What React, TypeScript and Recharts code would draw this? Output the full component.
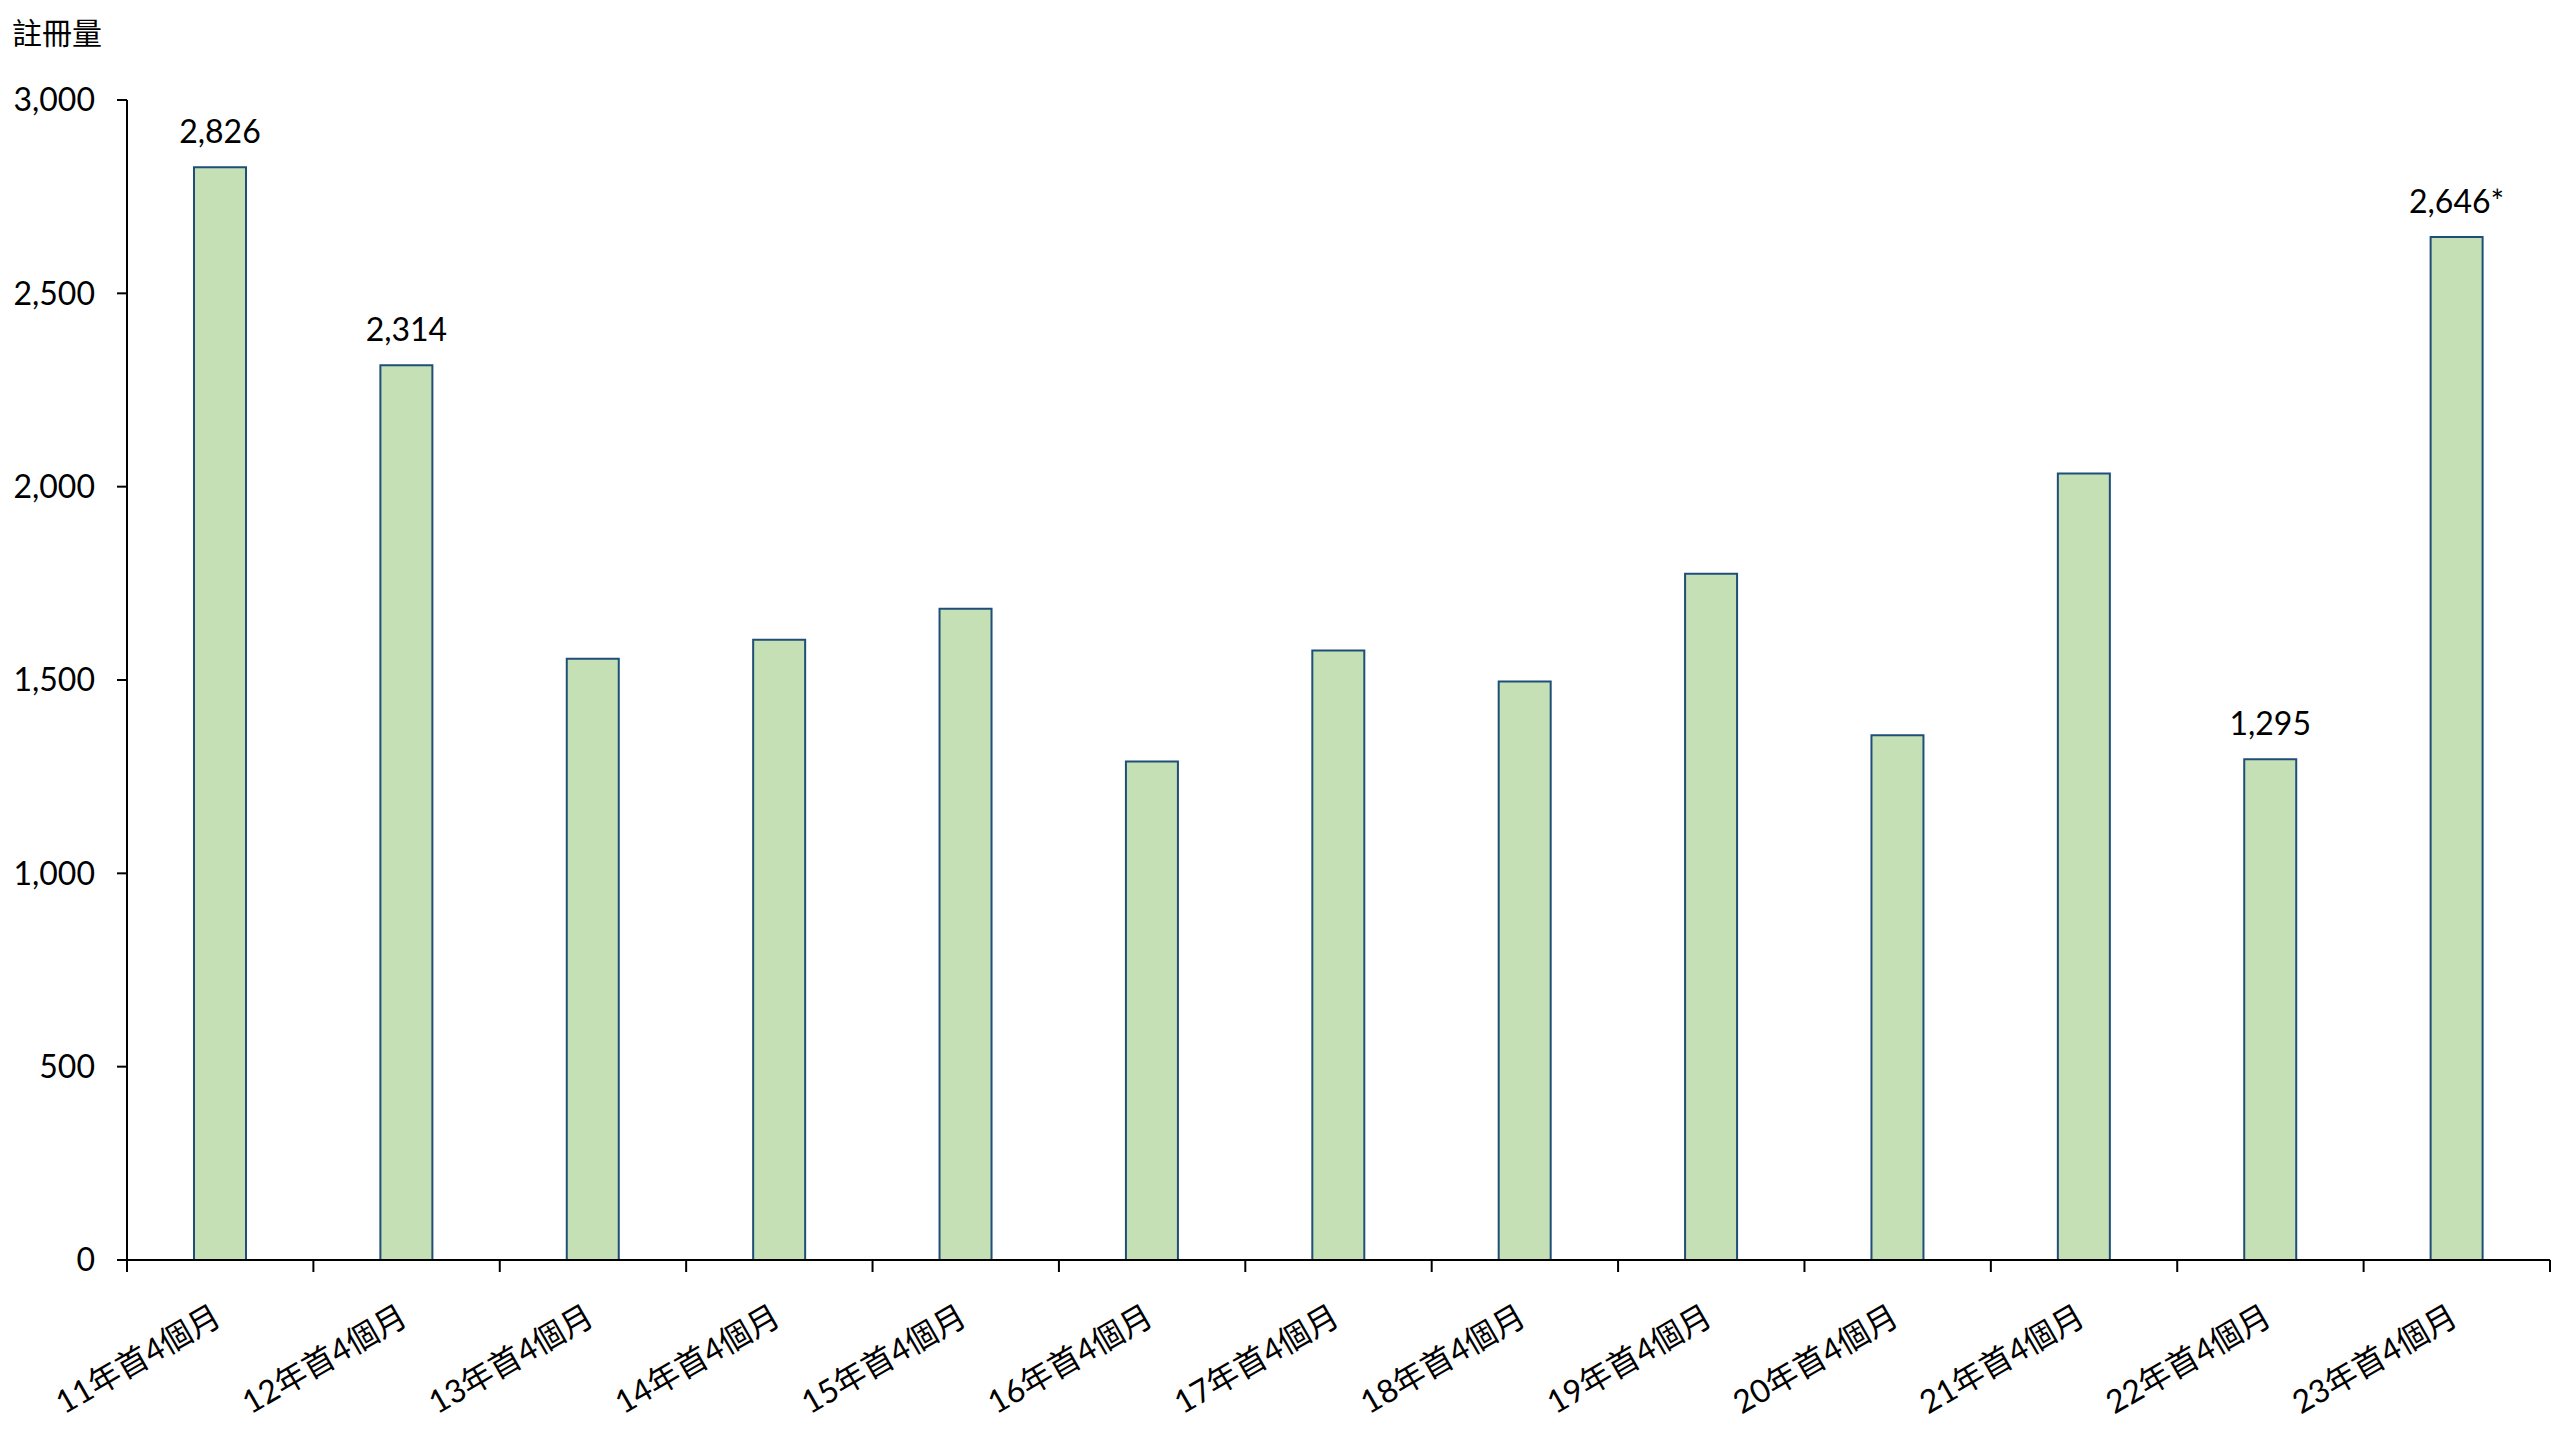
import React from 'react';
import { BarChart, Bar, XAxis, YAxis, LabelList } from 'recharts';

const categories = [
  '11年首4個月',
  '12年首4個月',
  '13年首4個月',
  '14年首4個月',
  '15年首4個月',
  '16年首4個月',
  '17年首4個月',
  '18年首4個月',
  '19年首4個月',
  '20年首4個月',
  '21年首4個月',
  '22年首4個月',
  '23年首4個月',
];

const registrations = [2826, 2314, 1555, 1604, 1684, 1289, 1576, 1496, 1775, 1357, 2034, 1295, 2646];

const valueLabels = ['2,826', '2,314', '', '', '', '', '', '', '', '', '', '1,295', '2,646*'];

const yTicks = [0, 500, 1000, 1500, 2000, 2500, 3000];

// each category sits in the middle of its slot on a 0..13 scale
const data = categories.map((name, i) => ({
  name,
  value: registrations[i],
  label: valueLabels[i],
  pos: i + 0.5,
}));

// boundary ticks (integers) carry a tick mark, centre ticks (halves) carry the label
const xTicks = [...categories.map((_, i) => i), categories.length, ...data.map((d) => d.pos)].sort(
  (a, b) => a - b,
);

const FONT = "Lato, 'Noto Sans CJK TC', sans-serif";

const CategoryTick = ({ x, y, payload }: any) => {
  const v = payload.value;
  if (Number.isInteger(v)) {
    return <line x1={x} y1={y} x2={x} y2={y + 12} stroke="#000" strokeWidth={2} />;
  }
  return (
    <g transform={`translate(${x + 3},${y + 63})`}>
      <text
        x={0}
        y={0}
        textAnchor="end"
        transform="rotate(-30)"
        fontSize={32}
        fontFamily={FONT}
        fill="#000"
      >
        {categories[Math.floor(v)]}
      </text>
    </g>
  );
};

const formatThousands = (v: number) => v.toLocaleString('en-US');

const App = () => {
  return (
    <div style={{ position: 'absolute', left: 0, top: 0, width: 2560, height: 1440, background: '#fff' }}>
      <div
        style={{
          position: 'absolute',
          left: 12,
          top: 15,
          fontSize: 30,
          lineHeight: '34px',
          fontFamily: FONT,
          color: '#000',
        }}
      >
        註冊量
      </div>
      <BarChart
        width={2560}
        height={1440}
        data={data}
        margin={{ top: 100, right: 10, left: 0, bottom: 10 }}
        barSize={52}
      >
        <XAxis
          dataKey="pos"
          type="number"
          domain={[0, categories.length]}
          ticks={xTicks}
          interval={0}
          height={170}
          tickSize={0}
          tickMargin={0}
          axisLine={{ stroke: '#000', strokeWidth: 2 }}
          tickLine={false}
          tick={<CategoryTick />}
          allowDataOverflow
        />
        <YAxis
          width={127}
          domain={[0, 3000]}
          ticks={yTicks}
          tickFormatter={formatThousands}
          tickSize={10}
          tickMargin={22}
          axisLine={{ stroke: '#000', strokeWidth: 2 }}
          tickLine={{ stroke: '#000', strokeWidth: 2 }}
          tick={{ fill: '#000', fontSize: 32, fontFamily: FONT }}
        />
        <Bar dataKey="value" fill="#C5E0B4" stroke="#1F4E79" strokeWidth={2} isAnimationActive={false}>
          <LabelList dataKey="label" position="top" offset={24} fill="#000" fontSize={32} fontFamily={FONT} />
        </Bar>
      </BarChart>
    </div>
  );
};

export default App;
